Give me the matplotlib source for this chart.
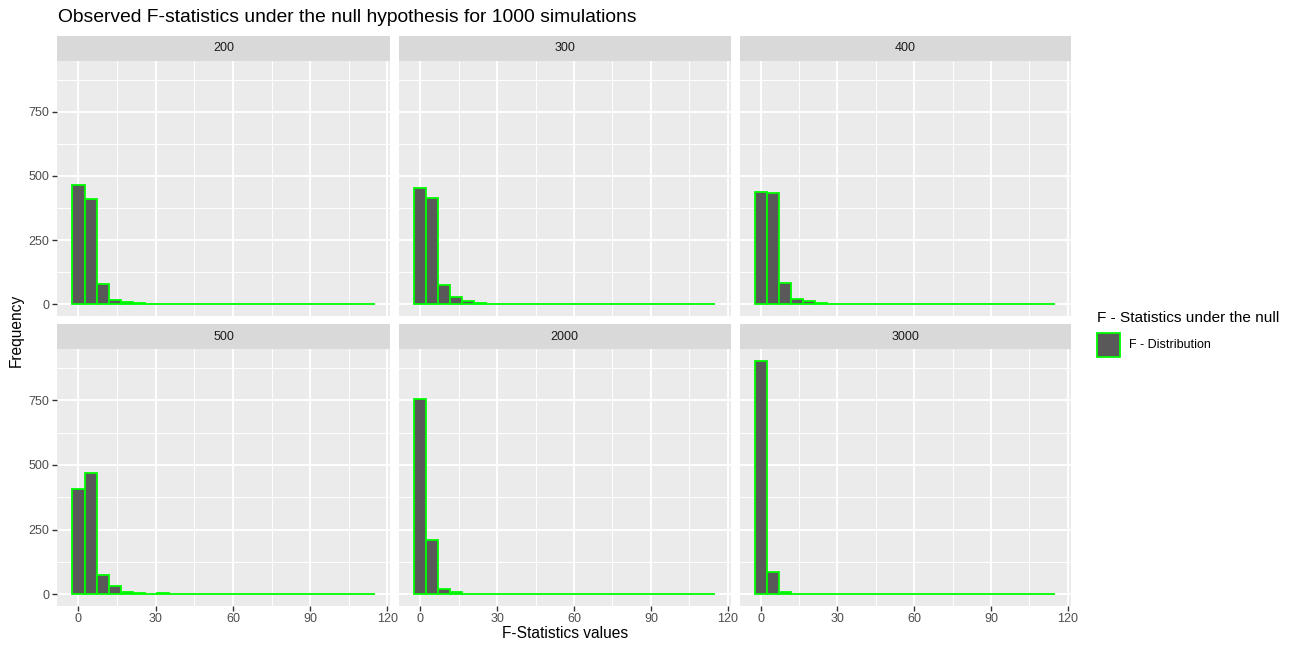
import numpy as np
import matplotlib
matplotlib.use("Agg")
import matplotlib.pyplot as plt
from matplotlib.patches import Rectangle

plt.rcParams['font.family'] = ['Liberation Sans', 'DejaVu Sans']

# ---- data ----
panel_labels = ["200", "300", "400", "500", "2000", "3000"]
bin_start = -2.35
bin_width = 4.7
counts_200 = [466, 412, 78, 16, 10, 5, 3, 2, 1, 1, 1, 1, 1, 1, 0, 1, 0, 0, 0, 0, 0, 1, 0, 0, 0]
counts_300 = [453, 414, 76, 28, 13, 4, 2, 3, 1, 1, 1, 1, 1, 0, 0, 0, 0, 0, 0, 0, 0, 0, 0, 0, 1]
counts_400 = [437, 432, 85, 22, 12, 6, 2, 1, 1, 1, 2, 1, 1, 0, 0, 0, 0, 0, 0, 0, 0, 0, 0, 0, 1]
counts_500 = [407, 469, 74, 30, 8, 4, 1, 5, 1, 0, 1, 1, 0, 0, 0, 0, 0, 0, 0, 0, 0, 0, 0, 0, 1]
counts_2000 = [757, 211, 19, 8, 2, 1, 1, 0, 0, 0, 0, 0, 0, 0, 0, 0, 0, 0, 0, 0, 0, 0, 0, 0, 1]
counts_3000 = [903, 87, 9, 1, 0, 0, 0, 0, 0, 0, 0, 0, 0, 0, 0, 0, 0, 0, 0, 0, 0, 0, 0, 0, 0]
all_counts = [counts_200, counts_300, counts_400, counts_500, counts_2000, counts_3000]
x_ticks = [0, 30, 60, 90, 120]
y_ticks = [0, 250, 500, 750]

title = "Observed F-statistics under the null hypothesis for 1000 simulations"
x_label = "F-Statistics values"
y_label = "Frequency"
legend_title = "F - Statistics under the null"
legend_label = "F - Distribution"

# ---- style ----
FILL = "#595959"
EDGE = "#00FF00"
PANEL_BG = "#EBEBEB"
STRIP_BG = "#D9D9D9"
TICK_COL = "#4D4D4D"

W, H = 1300, 645
fig = plt.figure(figsize=(W / 100, H / 100), dpi=100)

cols = [(57.3, 390.0), (399.0, 730.5), (739.5, 1070.5)]
rows = [(60.7, 316.0), (349.3, 605.7)]
strip_h = 25.0

ymax = max(max(c) for c in all_counts)
ylim = (-0.05 * ymax, 1.05 * ymax)
nb = len(counts_200)
xmin_data = bin_start
xmax_data = bin_start + nb * bin_width
xr = xmax_data - xmin_data
xlim = (xmin_data - 0.05 * xr, xmax_data + 0.05 * xr)

for i, (lab, counts) in enumerate(zip(panel_labels, all_counts)):
    r, c = divmod(i, 3)
    x0, x1 = cols[c]
    y0, y1 = rows[r]
    ax = fig.add_axes([x0 / W, 1 - y1 / H, (x1 - x0) / W, (y1 - y0) / H])
    ax.set_facecolor(PANEL_BG)
    for s in ax.spines.values():
        s.set_visible(False)
    lefts = bin_start + bin_width * np.arange(len(counts))
    ax.bar(lefts, counts, width=bin_width, align='edge', color=FILL,
           edgecolor=EDGE, linewidth=1.3, zorder=3)
    ax.set_xlim(*xlim)
    ax.set_ylim(*ylim)
    ax.set_xticks(x_ticks)
    ax.set_yticks(y_ticks)
    ax.set_xticks([15, 45, 75, 105], minor=True)
    ax.set_yticks([125, 375, 625, 875], minor=True)
    ax.grid(which='major', color='white', linewidth=1.4, zorder=0)
    ax.grid(which='minor', color='white', linewidth=0.7, zorder=0)
    ax.set_axisbelow(True)
    ax.tick_params(which='minor', length=0)
    ax.tick_params(which='major', length=3.5, width=1.0, color='#333333',
                   labelsize=9, labelcolor=TICK_COL, pad=2)
    if r == 0:
        ax.tick_params(axis='x', which='major', length=0, labelbottom=False)
    if c != 0:
        ax.tick_params(axis='y', which='major', length=0, labelleft=False)
    # strip
    sax = fig.add_axes([x0 / W, 1 - y0 / H, (x1 - x0) / W, strip_h / H])
    sax.set_facecolor(STRIP_BG)
    sax.set_xticks([]); sax.set_yticks([])
    for s in sax.spines.values():
        s.set_visible(False)
    sax.text(0.5, 0.5, lab, ha='center', va='center', fontsize=9,
             color='#1A1A1A', transform=sax.transAxes)

fig.text(58 / W, 1 - 18 / H, title, ha='left', va='center', fontsize=13.9, color='black')
fig.text(565 / W, 1 - 634 / H, x_label, ha='center', va='center', fontsize=11.2, color='black')
fig.text(16 / W, 1 - 330 / H, y_label, ha='center', va='center', rotation=90,
         fontsize=11.2, color='black')

# legend (ggplot-style, drawn at figure level)
fig.text(1097 / W, 1 - 318 / H, legend_title, ha='left', va='center',
         fontsize=11.1, color='black')
fig.add_artist(Rectangle((1097 / W, 1 - 356.5 / H), 23 / W, 23.5 / H,
                         transform=fig.transFigure, facecolor=FILL,
                         edgecolor=EDGE, linewidth=1.3))
fig.text(1129 / W, 1 - 345 / H, legend_label, ha='left', va='center',
         fontsize=9, color='black')

fig.savefig("out.png", dpi=100)
